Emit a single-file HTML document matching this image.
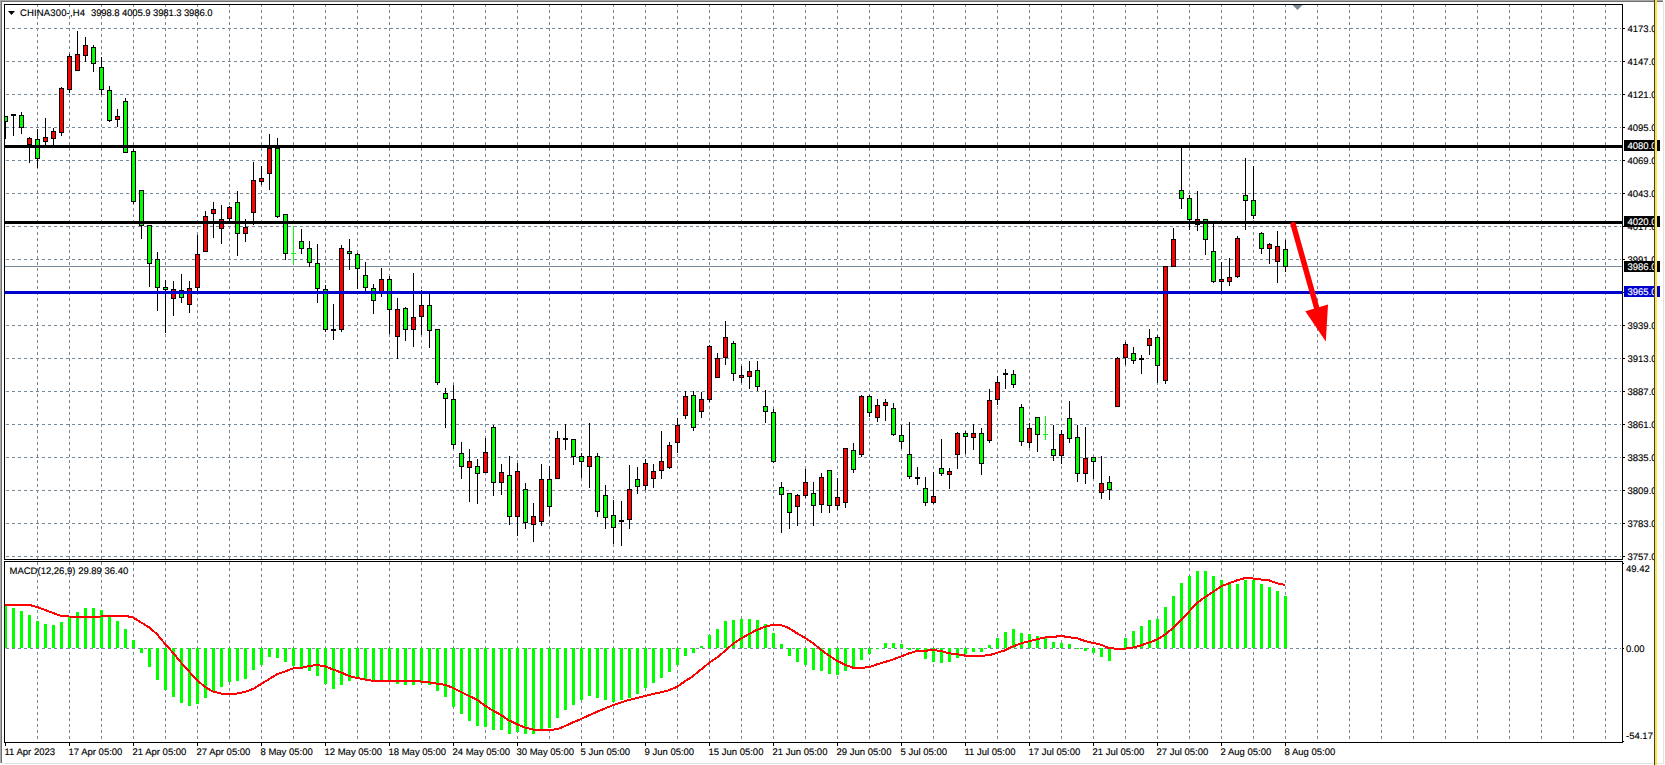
<!DOCTYPE html>
<html><head><meta charset="utf-8"><style>
html,body{margin:0;padding:0;width:1665px;height:765px;overflow:hidden;background:#fff}
svg{display:block}
text{font-family:"Liberation Sans",sans-serif;font-size:9.5px;text-rendering:geometricPrecision;stroke:currentColor;stroke-width:0.15px}
</style></head><body>
<svg width="1665" height="765" viewBox="0 0 1665 765" shape-rendering="crispEdges">
<defs>
<clipPath id="cpmain"><rect x="5" y="5" width="1617" height="554"/></clipPath>
<clipPath id="cpmacd"><rect x="5" y="562" width="1617" height="180"/></clipPath>
<clipPath id="cpall"><rect x="5" y="5" width="1617" height="554"/><rect x="5" y="562" width="1617" height="180"/></clipPath>
</defs>
<rect x="0" y="0" width="1663" height="1" fill="#a9a9a9"/>
<rect x="0" y="1" width="1663" height="1" fill="#707070"/>
<rect x="0" y="0" width="1" height="763" fill="#a9a9a9"/>
<rect x="1" y="1" width="1" height="762" fill="#707070"/>
<rect x="2" y="763" width="1662" height="1" fill="#e3e3e3"/>
<rect x="1663" y="2" width="1" height="762" fill="#e3e3e3"/>
<g clip-path="url(#cpall)" stroke="#778899" stroke-width="1" stroke-dasharray="3 3" fill="none">
<line x1="37.5" y1="4" x2="37.5" y2="745"/>
<line x1="69.5" y1="4" x2="69.5" y2="745"/>
<line x1="101.5" y1="4" x2="101.5" y2="745"/>
<line x1="133.5" y1="4" x2="133.5" y2="745"/>
<line x1="165.5" y1="4" x2="165.5" y2="745"/>
<line x1="197.5" y1="4" x2="197.5" y2="745"/>
<line x1="229.5" y1="4" x2="229.5" y2="745"/>
<line x1="261.5" y1="4" x2="261.5" y2="745"/>
<line x1="293.5" y1="4" x2="293.5" y2="745"/>
<line x1="325.5" y1="4" x2="325.5" y2="745"/>
<line x1="357.5" y1="4" x2="357.5" y2="745"/>
<line x1="389.5" y1="4" x2="389.5" y2="745"/>
<line x1="421.5" y1="4" x2="421.5" y2="745"/>
<line x1="453.5" y1="4" x2="453.5" y2="745"/>
<line x1="485.5" y1="4" x2="485.5" y2="745"/>
<line x1="517.5" y1="4" x2="517.5" y2="745"/>
<line x1="549.5" y1="4" x2="549.5" y2="745"/>
<line x1="581.5" y1="4" x2="581.5" y2="745"/>
<line x1="613.5" y1="4" x2="613.5" y2="745"/>
<line x1="645.5" y1="4" x2="645.5" y2="745"/>
<line x1="677.5" y1="4" x2="677.5" y2="745"/>
<line x1="709.5" y1="4" x2="709.5" y2="745"/>
<line x1="741.5" y1="4" x2="741.5" y2="745"/>
<line x1="773.5" y1="4" x2="773.5" y2="745"/>
<line x1="805.5" y1="4" x2="805.5" y2="745"/>
<line x1="837.5" y1="4" x2="837.5" y2="745"/>
<line x1="869.5" y1="4" x2="869.5" y2="745"/>
<line x1="901.5" y1="4" x2="901.5" y2="745"/>
<line x1="933.5" y1="4" x2="933.5" y2="745"/>
<line x1="965.5" y1="4" x2="965.5" y2="745"/>
<line x1="997.5" y1="4" x2="997.5" y2="745"/>
<line x1="1029.5" y1="4" x2="1029.5" y2="745"/>
<line x1="1061.5" y1="4" x2="1061.5" y2="745"/>
<line x1="1093.5" y1="4" x2="1093.5" y2="745"/>
<line x1="1125.5" y1="4" x2="1125.5" y2="745"/>
<line x1="1157.5" y1="4" x2="1157.5" y2="745"/>
<line x1="1189.5" y1="4" x2="1189.5" y2="745"/>
<line x1="1221.5" y1="4" x2="1221.5" y2="745"/>
<line x1="1253.5" y1="4" x2="1253.5" y2="745"/>
<line x1="1285.5" y1="4" x2="1285.5" y2="745"/>
<line x1="1317.5" y1="4" x2="1317.5" y2="745"/>
<line x1="1349.5" y1="4" x2="1349.5" y2="745"/>
<line x1="1381.5" y1="4" x2="1381.5" y2="745"/>
<line x1="1413.5" y1="4" x2="1413.5" y2="745"/>
<line x1="1445.5" y1="4" x2="1445.5" y2="745"/>
<line x1="1477.5" y1="4" x2="1477.5" y2="745"/>
<line x1="1509.5" y1="4" x2="1509.5" y2="745"/>
<line x1="1541.5" y1="4" x2="1541.5" y2="745"/>
<line x1="1573.5" y1="4" x2="1573.5" y2="745"/>
<line x1="1605.5" y1="4" x2="1605.5" y2="745"/>
<line x1="0" y1="28.5" x2="1621" y2="28.5"/>
<line x1="0" y1="61.5" x2="1621" y2="61.5"/>
<line x1="0" y1="94.5" x2="1621" y2="94.5"/>
<line x1="0" y1="127.5" x2="1621" y2="127.5"/>
<line x1="0" y1="160.5" x2="1621" y2="160.5"/>
<line x1="0" y1="193.5" x2="1621" y2="193.5"/>
<line x1="0" y1="226.5" x2="1621" y2="226.5"/>
<line x1="0" y1="259.5" x2="1621" y2="259.5"/>
<line x1="0" y1="292.5" x2="1621" y2="292.5"/>
<line x1="0" y1="325.5" x2="1621" y2="325.5"/>
<line x1="0" y1="358.5" x2="1621" y2="358.5"/>
<line x1="0" y1="391.5" x2="1621" y2="391.5"/>
<line x1="0" y1="424.5" x2="1621" y2="424.5"/>
<line x1="0" y1="457.5" x2="1621" y2="457.5"/>
<line x1="0" y1="490.5" x2="1621" y2="490.5"/>
<line x1="0" y1="523.5" x2="1621" y2="523.5"/>
<line x1="0" y1="556.5" x2="1621" y2="556.5"/>
<line x1="0" y1="648.5" x2="1621" y2="648.5"/>
</g>
<rect x="5" y="266" width="1617" height="1" fill="#778899"/>
<g clip-path="url(#cpmain)">
<rect x="5" y="116" width="1" height="23" fill="#000"/>
<rect x="3" y="116" width="5" height="6" fill="#000"/>
<rect x="4" y="117" width="3" height="4" fill="#00ff00"/>
<rect x="13" y="114" width="1" height="22" fill="#000"/>
<rect x="11" y="114" width="5" height="2" fill="#000"/>
<rect x="21" y="112" width="1" height="22" fill="#000"/>
<rect x="19" y="115" width="5" height="13" fill="#000"/>
<rect x="20" y="116" width="3" height="11" fill="#00ff00"/>
<rect x="29" y="137" width="1" height="26" fill="#000"/>
<rect x="27" y="138" width="5" height="7" fill="#000"/>
<rect x="28" y="139" width="3" height="5" fill="#ff0000"/>
<rect x="37" y="129" width="1" height="39" fill="#000"/>
<rect x="35" y="139" width="5" height="20" fill="#000"/>
<rect x="36" y="140" width="3" height="18" fill="#00ff00"/>
<rect x="45" y="118" width="1" height="29" fill="#000"/>
<rect x="43" y="137" width="5" height="5" fill="#000"/>
<rect x="44" y="138" width="3" height="3" fill="#ff0000"/>
<rect x="53" y="128" width="1" height="18" fill="#000"/>
<rect x="51" y="131" width="5" height="8" fill="#000"/>
<rect x="52" y="132" width="3" height="6" fill="#ff0000"/>
<rect x="61" y="87" width="1" height="49" fill="#000"/>
<rect x="59" y="88" width="5" height="45" fill="#000"/>
<rect x="60" y="89" width="3" height="43" fill="#ff0000"/>
<rect x="69" y="54" width="1" height="39" fill="#000"/>
<rect x="67" y="56" width="5" height="34" fill="#000"/>
<rect x="68" y="57" width="3" height="32" fill="#ff0000"/>
<rect x="77" y="31" width="1" height="40" fill="#000"/>
<rect x="75" y="54" width="5" height="17" fill="#000"/>
<rect x="76" y="55" width="3" height="15" fill="#ff0000"/>
<rect x="85" y="37" width="1" height="25" fill="#000"/>
<rect x="83" y="45" width="5" height="11" fill="#000"/>
<rect x="84" y="46" width="3" height="9" fill="#ff0000"/>
<rect x="93" y="45" width="1" height="27" fill="#000"/>
<rect x="91" y="47" width="5" height="17" fill="#000"/>
<rect x="92" y="48" width="3" height="15" fill="#00ff00"/>
<rect x="101" y="57" width="1" height="38" fill="#000"/>
<rect x="99" y="67" width="5" height="23" fill="#000"/>
<rect x="100" y="68" width="3" height="21" fill="#00ff00"/>
<rect x="109" y="86" width="1" height="36" fill="#000"/>
<rect x="107" y="90" width="5" height="31" fill="#000"/>
<rect x="108" y="91" width="3" height="29" fill="#00ff00"/>
<rect x="117" y="109" width="1" height="18" fill="#000"/>
<rect x="115" y="116" width="5" height="4" fill="#000"/>
<rect x="116" y="117" width="3" height="2" fill="#ff0000"/>
<rect x="125" y="98" width="1" height="55" fill="#000"/>
<rect x="123" y="101" width="5" height="52" fill="#000"/>
<rect x="124" y="102" width="3" height="50" fill="#00ff00"/>
<rect x="133" y="149" width="1" height="55" fill="#000"/>
<rect x="131" y="151" width="5" height="51" fill="#000"/>
<rect x="132" y="152" width="3" height="49" fill="#00ff00"/>
<rect x="141" y="190" width="1" height="49" fill="#000"/>
<rect x="139" y="190" width="5" height="36" fill="#000"/>
<rect x="140" y="191" width="3" height="34" fill="#00ff00"/>
<rect x="149" y="225" width="1" height="62" fill="#000"/>
<rect x="147" y="225" width="5" height="39" fill="#000"/>
<rect x="148" y="226" width="3" height="37" fill="#00ff00"/>
<rect x="157" y="252" width="1" height="59" fill="#000"/>
<rect x="155" y="259" width="5" height="29" fill="#000"/>
<rect x="156" y="260" width="3" height="27" fill="#00ff00"/>
<rect x="165" y="280" width="1" height="53" fill="#000"/>
<rect x="163" y="287" width="5" height="3" fill="#000"/>
<rect x="164" y="288" width="3" height="1" fill="#00ff00"/>
<rect x="173" y="281" width="1" height="35" fill="#000"/>
<rect x="171" y="289" width="5" height="10" fill="#000"/>
<rect x="172" y="290" width="3" height="8" fill="#ff0000"/>
<rect x="181" y="274" width="1" height="29" fill="#000"/>
<rect x="179" y="290" width="5" height="8" fill="#000"/>
<rect x="180" y="291" width="3" height="6" fill="#00ff00"/>
<rect x="189" y="281" width="1" height="32" fill="#000"/>
<rect x="187" y="288" width="5" height="17" fill="#000"/>
<rect x="188" y="289" width="3" height="15" fill="#ff0000"/>
<rect x="197" y="235" width="1" height="57" fill="#000"/>
<rect x="195" y="254" width="5" height="34" fill="#000"/>
<rect x="196" y="255" width="3" height="32" fill="#ff0000"/>
<rect x="205" y="211" width="1" height="41" fill="#000"/>
<rect x="203" y="216" width="5" height="36" fill="#000"/>
<rect x="204" y="217" width="3" height="34" fill="#ff0000"/>
<rect x="213" y="202" width="1" height="36" fill="#000"/>
<rect x="211" y="209" width="5" height="5" fill="#000"/>
<rect x="212" y="210" width="3" height="3" fill="#ff0000"/>
<rect x="221" y="205" width="1" height="39" fill="#000"/>
<rect x="219" y="219" width="5" height="10" fill="#000"/>
<rect x="220" y="220" width="3" height="8" fill="#ff0000"/>
<rect x="229" y="206" width="1" height="15" fill="#000"/>
<rect x="227" y="207" width="5" height="12" fill="#000"/>
<rect x="228" y="208" width="3" height="10" fill="#ff0000"/>
<rect x="237" y="191" width="1" height="65" fill="#000"/>
<rect x="235" y="202" width="5" height="32" fill="#000"/>
<rect x="236" y="203" width="3" height="30" fill="#00ff00"/>
<rect x="245" y="219" width="1" height="23" fill="#000"/>
<rect x="243" y="227" width="5" height="7" fill="#000"/>
<rect x="244" y="228" width="3" height="5" fill="#ff0000"/>
<rect x="253" y="162" width="1" height="63" fill="#000"/>
<rect x="251" y="180" width="5" height="33" fill="#000"/>
<rect x="252" y="181" width="3" height="31" fill="#ff0000"/>
<rect x="261" y="166" width="1" height="19" fill="#000"/>
<rect x="259" y="178" width="5" height="4" fill="#000"/>
<rect x="260" y="179" width="3" height="2" fill="#ff0000"/>
<rect x="269" y="134" width="1" height="56" fill="#000"/>
<rect x="267" y="148" width="5" height="26" fill="#000"/>
<rect x="268" y="149" width="3" height="24" fill="#ff0000"/>
<rect x="277" y="138" width="1" height="80" fill="#000"/>
<rect x="275" y="148" width="5" height="69" fill="#000"/>
<rect x="276" y="149" width="3" height="67" fill="#00ff00"/>
<rect x="285" y="214" width="1" height="46" fill="#000"/>
<rect x="283" y="214" width="5" height="40" fill="#000"/>
<rect x="284" y="215" width="3" height="38" fill="#00ff00"/>
<rect x="293" y="226" width="1" height="38" fill="#00ff00"/>
<rect x="291" y="253" width="5" height="1" fill="#00ff00"/>
<rect x="301" y="229" width="1" height="25" fill="#000"/>
<rect x="299" y="241" width="5" height="8" fill="#000"/>
<rect x="300" y="242" width="3" height="6" fill="#00ff00"/>
<rect x="309" y="241" width="1" height="26" fill="#000"/>
<rect x="307" y="248" width="5" height="15" fill="#000"/>
<rect x="308" y="249" width="3" height="13" fill="#00ff00"/>
<rect x="317" y="244" width="1" height="59" fill="#000"/>
<rect x="315" y="263" width="5" height="26" fill="#000"/>
<rect x="316" y="264" width="3" height="24" fill="#00ff00"/>
<rect x="325" y="285" width="1" height="47" fill="#000"/>
<rect x="323" y="289" width="5" height="41" fill="#000"/>
<rect x="324" y="290" width="3" height="39" fill="#00ff00"/>
<rect x="333" y="304" width="1" height="36" fill="#000"/>
<rect x="331" y="329" width="5" height="2" fill="#000"/>
<rect x="341" y="245" width="1" height="87" fill="#000"/>
<rect x="339" y="248" width="5" height="82" fill="#000"/>
<rect x="340" y="249" width="3" height="80" fill="#ff0000"/>
<rect x="349" y="239" width="1" height="31" fill="#000"/>
<rect x="347" y="251" width="5" height="3" fill="#000"/>
<rect x="348" y="252" width="3" height="1" fill="#00ff00"/>
<rect x="357" y="253" width="1" height="36" fill="#000"/>
<rect x="355" y="254" width="5" height="15" fill="#000"/>
<rect x="356" y="255" width="3" height="13" fill="#00ff00"/>
<rect x="365" y="262" width="1" height="29" fill="#000"/>
<rect x="363" y="275" width="5" height="13" fill="#000"/>
<rect x="364" y="276" width="3" height="11" fill="#00ff00"/>
<rect x="373" y="284" width="1" height="30" fill="#000"/>
<rect x="371" y="288" width="5" height="13" fill="#000"/>
<rect x="372" y="289" width="3" height="11" fill="#00ff00"/>
<rect x="381" y="268" width="1" height="29" fill="#000"/>
<rect x="379" y="279" width="5" height="13" fill="#000"/>
<rect x="380" y="280" width="3" height="11" fill="#ff0000"/>
<rect x="389" y="276" width="1" height="58" fill="#000"/>
<rect x="387" y="279" width="5" height="31" fill="#000"/>
<rect x="388" y="280" width="3" height="29" fill="#00ff00"/>
<rect x="397" y="298" width="1" height="61" fill="#000"/>
<rect x="395" y="309" width="5" height="28" fill="#000"/>
<rect x="396" y="310" width="3" height="26" fill="#ff0000"/>
<rect x="405" y="307" width="1" height="34" fill="#000"/>
<rect x="403" y="308" width="5" height="22" fill="#000"/>
<rect x="404" y="309" width="3" height="20" fill="#00ff00"/>
<rect x="413" y="273" width="1" height="74" fill="#000"/>
<rect x="411" y="317" width="5" height="13" fill="#000"/>
<rect x="412" y="318" width="3" height="11" fill="#ff0000"/>
<rect x="421" y="290" width="1" height="45" fill="#000"/>
<rect x="419" y="305" width="5" height="12" fill="#000"/>
<rect x="420" y="306" width="3" height="10" fill="#ff0000"/>
<rect x="429" y="293" width="1" height="55" fill="#000"/>
<rect x="427" y="305" width="5" height="26" fill="#000"/>
<rect x="428" y="306" width="3" height="24" fill="#00ff00"/>
<rect x="437" y="329" width="1" height="56" fill="#000"/>
<rect x="435" y="329" width="5" height="54" fill="#000"/>
<rect x="436" y="330" width="3" height="52" fill="#00ff00"/>
<rect x="445" y="388" width="1" height="40" fill="#000"/>
<rect x="443" y="393" width="5" height="6" fill="#000"/>
<rect x="444" y="394" width="3" height="4" fill="#00ff00"/>
<rect x="453" y="385" width="1" height="64" fill="#000"/>
<rect x="451" y="399" width="5" height="46" fill="#000"/>
<rect x="452" y="400" width="3" height="44" fill="#00ff00"/>
<rect x="461" y="442" width="1" height="37" fill="#000"/>
<rect x="459" y="453" width="5" height="14" fill="#000"/>
<rect x="460" y="454" width="3" height="12" fill="#00ff00"/>
<rect x="469" y="449" width="1" height="53" fill="#000"/>
<rect x="467" y="461" width="5" height="7" fill="#000"/>
<rect x="468" y="462" width="3" height="5" fill="#ff0000"/>
<rect x="477" y="459" width="1" height="45" fill="#000"/>
<rect x="475" y="466" width="5" height="8" fill="#000"/>
<rect x="476" y="467" width="3" height="6" fill="#00ff00"/>
<rect x="485" y="438" width="1" height="35" fill="#000"/>
<rect x="483" y="452" width="5" height="21" fill="#000"/>
<rect x="484" y="453" width="3" height="19" fill="#ff0000"/>
<rect x="493" y="425" width="1" height="71" fill="#000"/>
<rect x="491" y="427" width="5" height="56" fill="#000"/>
<rect x="492" y="428" width="3" height="54" fill="#00ff00"/>
<rect x="501" y="464" width="1" height="31" fill="#000"/>
<rect x="499" y="472" width="5" height="11" fill="#000"/>
<rect x="500" y="473" width="3" height="9" fill="#ff0000"/>
<rect x="509" y="456" width="1" height="69" fill="#000"/>
<rect x="507" y="475" width="5" height="42" fill="#000"/>
<rect x="508" y="476" width="3" height="40" fill="#00ff00"/>
<rect x="517" y="463" width="1" height="73" fill="#000"/>
<rect x="515" y="471" width="5" height="46" fill="#000"/>
<rect x="516" y="472" width="3" height="44" fill="#ff0000"/>
<rect x="525" y="483" width="1" height="46" fill="#000"/>
<rect x="523" y="489" width="5" height="34" fill="#000"/>
<rect x="524" y="490" width="3" height="32" fill="#00ff00"/>
<rect x="533" y="503" width="1" height="39" fill="#000"/>
<rect x="531" y="516" width="5" height="9" fill="#000"/>
<rect x="532" y="517" width="3" height="7" fill="#ff0000"/>
<rect x="541" y="464" width="1" height="62" fill="#000"/>
<rect x="539" y="479" width="5" height="43" fill="#000"/>
<rect x="540" y="480" width="3" height="41" fill="#ff0000"/>
<rect x="549" y="466" width="1" height="50" fill="#000"/>
<rect x="547" y="479" width="5" height="28" fill="#000"/>
<rect x="548" y="480" width="3" height="26" fill="#00ff00"/>
<rect x="557" y="431" width="1" height="48" fill="#000"/>
<rect x="555" y="438" width="5" height="41" fill="#000"/>
<rect x="556" y="439" width="3" height="39" fill="#ff0000"/>
<rect x="565" y="424" width="1" height="26" fill="#000"/>
<rect x="563" y="438" width="5" height="2" fill="#000"/>
<rect x="573" y="439" width="1" height="26" fill="#000"/>
<rect x="571" y="439" width="5" height="18" fill="#000"/>
<rect x="572" y="440" width="3" height="16" fill="#00ff00"/>
<rect x="581" y="453" width="1" height="25" fill="#000"/>
<rect x="579" y="456" width="5" height="6" fill="#000"/>
<rect x="580" y="457" width="3" height="4" fill="#00ff00"/>
<rect x="589" y="423" width="1" height="65" fill="#000"/>
<rect x="587" y="456" width="5" height="11" fill="#000"/>
<rect x="588" y="457" width="3" height="9" fill="#ff0000"/>
<rect x="597" y="453" width="1" height="64" fill="#000"/>
<rect x="595" y="456" width="5" height="56" fill="#000"/>
<rect x="596" y="457" width="3" height="54" fill="#00ff00"/>
<rect x="605" y="485" width="1" height="44" fill="#000"/>
<rect x="603" y="495" width="5" height="23" fill="#000"/>
<rect x="604" y="496" width="3" height="21" fill="#00ff00"/>
<rect x="613" y="500" width="1" height="44" fill="#000"/>
<rect x="611" y="515" width="5" height="13" fill="#000"/>
<rect x="612" y="516" width="3" height="11" fill="#00ff00"/>
<rect x="621" y="501" width="1" height="45" fill="#000"/>
<rect x="619" y="520" width="5" height="2" fill="#000"/>
<rect x="629" y="465" width="1" height="64" fill="#000"/>
<rect x="627" y="489" width="5" height="31" fill="#000"/>
<rect x="628" y="490" width="3" height="29" fill="#ff0000"/>
<rect x="637" y="467" width="1" height="27" fill="#000"/>
<rect x="635" y="479" width="5" height="8" fill="#000"/>
<rect x="636" y="480" width="3" height="6" fill="#00ff00"/>
<rect x="645" y="459" width="1" height="31" fill="#000"/>
<rect x="643" y="463" width="5" height="23" fill="#000"/>
<rect x="644" y="464" width="3" height="21" fill="#ff0000"/>
<rect x="653" y="464" width="1" height="24" fill="#000"/>
<rect x="651" y="471" width="5" height="8" fill="#000"/>
<rect x="652" y="472" width="3" height="6" fill="#ff0000"/>
<rect x="661" y="431" width="1" height="48" fill="#000"/>
<rect x="659" y="461" width="5" height="10" fill="#000"/>
<rect x="660" y="462" width="3" height="8" fill="#ff0000"/>
<rect x="669" y="442" width="1" height="27" fill="#000"/>
<rect x="667" y="445" width="5" height="23" fill="#000"/>
<rect x="668" y="446" width="3" height="21" fill="#ff0000"/>
<rect x="677" y="418" width="1" height="35" fill="#000"/>
<rect x="675" y="425" width="5" height="18" fill="#000"/>
<rect x="676" y="426" width="3" height="16" fill="#ff0000"/>
<rect x="685" y="391" width="1" height="28" fill="#000"/>
<rect x="683" y="396" width="5" height="20" fill="#000"/>
<rect x="684" y="397" width="3" height="18" fill="#ff0000"/>
<rect x="693" y="391" width="1" height="40" fill="#000"/>
<rect x="691" y="395" width="5" height="33" fill="#000"/>
<rect x="692" y="396" width="3" height="31" fill="#00ff00"/>
<rect x="701" y="392" width="1" height="26" fill="#000"/>
<rect x="699" y="399" width="5" height="13" fill="#000"/>
<rect x="700" y="400" width="3" height="11" fill="#ff0000"/>
<rect x="709" y="345" width="1" height="57" fill="#000"/>
<rect x="707" y="346" width="5" height="54" fill="#000"/>
<rect x="708" y="347" width="3" height="52" fill="#ff0000"/>
<rect x="717" y="353" width="1" height="25" fill="#000"/>
<rect x="715" y="358" width="5" height="20" fill="#000"/>
<rect x="716" y="359" width="3" height="18" fill="#ff0000"/>
<rect x="725" y="321" width="1" height="44" fill="#000"/>
<rect x="723" y="337" width="5" height="21" fill="#000"/>
<rect x="724" y="338" width="3" height="19" fill="#ff0000"/>
<rect x="733" y="341" width="1" height="40" fill="#000"/>
<rect x="731" y="343" width="5" height="31" fill="#000"/>
<rect x="732" y="344" width="3" height="29" fill="#00ff00"/>
<rect x="741" y="366" width="1" height="17" fill="#000"/>
<rect x="739" y="375" width="5" height="3" fill="#000"/>
<rect x="740" y="376" width="3" height="1" fill="#ff0000"/>
<rect x="749" y="361" width="1" height="28" fill="#000"/>
<rect x="747" y="371" width="5" height="6" fill="#000"/>
<rect x="748" y="372" width="3" height="4" fill="#ff0000"/>
<rect x="757" y="361" width="1" height="30" fill="#000"/>
<rect x="755" y="370" width="5" height="17" fill="#000"/>
<rect x="756" y="371" width="3" height="15" fill="#00ff00"/>
<rect x="765" y="390" width="1" height="33" fill="#000"/>
<rect x="763" y="406" width="5" height="6" fill="#000"/>
<rect x="764" y="407" width="3" height="4" fill="#00ff00"/>
<rect x="773" y="409" width="1" height="54" fill="#000"/>
<rect x="771" y="412" width="5" height="50" fill="#000"/>
<rect x="772" y="413" width="3" height="48" fill="#00ff00"/>
<rect x="781" y="482" width="1" height="51" fill="#000"/>
<rect x="779" y="487" width="5" height="8" fill="#000"/>
<rect x="780" y="488" width="3" height="6" fill="#00ff00"/>
<rect x="789" y="493" width="1" height="36" fill="#000"/>
<rect x="787" y="493" width="5" height="20" fill="#000"/>
<rect x="788" y="494" width="3" height="18" fill="#00ff00"/>
<rect x="797" y="494" width="1" height="32" fill="#000"/>
<rect x="795" y="495" width="5" height="12" fill="#000"/>
<rect x="796" y="496" width="3" height="10" fill="#ff0000"/>
<rect x="805" y="469" width="1" height="29" fill="#000"/>
<rect x="803" y="482" width="5" height="14" fill="#000"/>
<rect x="804" y="483" width="3" height="12" fill="#ff0000"/>
<rect x="813" y="482" width="1" height="44" fill="#000"/>
<rect x="811" y="493" width="5" height="13" fill="#000"/>
<rect x="812" y="494" width="3" height="11" fill="#00ff00"/>
<rect x="821" y="473" width="1" height="40" fill="#000"/>
<rect x="819" y="477" width="5" height="28" fill="#000"/>
<rect x="820" y="478" width="3" height="26" fill="#ff0000"/>
<rect x="829" y="470" width="1" height="43" fill="#000"/>
<rect x="827" y="470" width="5" height="36" fill="#000"/>
<rect x="828" y="471" width="3" height="34" fill="#00ff00"/>
<rect x="837" y="478" width="1" height="32" fill="#000"/>
<rect x="835" y="497" width="5" height="9" fill="#000"/>
<rect x="836" y="498" width="3" height="7" fill="#ff0000"/>
<rect x="845" y="448" width="1" height="60" fill="#000"/>
<rect x="843" y="448" width="5" height="55" fill="#000"/>
<rect x="844" y="449" width="3" height="53" fill="#ff0000"/>
<rect x="853" y="443" width="1" height="30" fill="#000"/>
<rect x="851" y="450" width="5" height="20" fill="#000"/>
<rect x="852" y="451" width="3" height="18" fill="#00ff00"/>
<rect x="861" y="395" width="1" height="62" fill="#000"/>
<rect x="859" y="396" width="5" height="59" fill="#000"/>
<rect x="860" y="397" width="3" height="57" fill="#ff0000"/>
<rect x="869" y="395" width="1" height="22" fill="#000"/>
<rect x="867" y="396" width="5" height="17" fill="#000"/>
<rect x="868" y="397" width="3" height="15" fill="#00ff00"/>
<rect x="877" y="399" width="1" height="23" fill="#000"/>
<rect x="875" y="405" width="5" height="13" fill="#000"/>
<rect x="876" y="406" width="3" height="11" fill="#ff0000"/>
<rect x="885" y="399" width="1" height="22" fill="#000"/>
<rect x="883" y="402" width="5" height="4" fill="#000"/>
<rect x="884" y="403" width="3" height="2" fill="#ff0000"/>
<rect x="893" y="403" width="1" height="33" fill="#000"/>
<rect x="891" y="408" width="5" height="27" fill="#000"/>
<rect x="892" y="409" width="3" height="25" fill="#00ff00"/>
<rect x="901" y="425" width="1" height="24" fill="#000"/>
<rect x="899" y="435" width="5" height="7" fill="#000"/>
<rect x="900" y="436" width="3" height="5" fill="#00ff00"/>
<rect x="909" y="422" width="1" height="57" fill="#000"/>
<rect x="907" y="454" width="5" height="23" fill="#000"/>
<rect x="908" y="455" width="3" height="21" fill="#00ff00"/>
<rect x="917" y="467" width="1" height="18" fill="#000"/>
<rect x="915" y="477" width="5" height="2" fill="#000"/>
<rect x="925" y="477" width="1" height="29" fill="#000"/>
<rect x="923" y="488" width="5" height="15" fill="#000"/>
<rect x="924" y="489" width="3" height="13" fill="#00ff00"/>
<rect x="933" y="472" width="1" height="32" fill="#000"/>
<rect x="931" y="496" width="5" height="7" fill="#000"/>
<rect x="932" y="497" width="3" height="5" fill="#ff0000"/>
<rect x="941" y="439" width="1" height="37" fill="#000"/>
<rect x="939" y="468" width="5" height="6" fill="#000"/>
<rect x="940" y="469" width="3" height="4" fill="#00ff00"/>
<rect x="949" y="468" width="1" height="21" fill="#000"/>
<rect x="947" y="471" width="5" height="4" fill="#000"/>
<rect x="948" y="472" width="3" height="2" fill="#ff0000"/>
<rect x="957" y="432" width="1" height="37" fill="#000"/>
<rect x="955" y="433" width="5" height="22" fill="#000"/>
<rect x="956" y="434" width="3" height="20" fill="#ff0000"/>
<rect x="965" y="431" width="1" height="23" fill="#000"/>
<rect x="963" y="433" width="5" height="4" fill="#000"/>
<rect x="964" y="434" width="3" height="2" fill="#00ff00"/>
<rect x="973" y="424" width="1" height="26" fill="#000"/>
<rect x="971" y="433" width="5" height="5" fill="#000"/>
<rect x="972" y="434" width="3" height="3" fill="#ff0000"/>
<rect x="981" y="428" width="1" height="47" fill="#000"/>
<rect x="979" y="433" width="5" height="31" fill="#000"/>
<rect x="980" y="434" width="3" height="29" fill="#00ff00"/>
<rect x="989" y="389" width="1" height="54" fill="#000"/>
<rect x="987" y="400" width="5" height="41" fill="#000"/>
<rect x="988" y="401" width="3" height="39" fill="#ff0000"/>
<rect x="997" y="376" width="1" height="29" fill="#000"/>
<rect x="995" y="382" width="5" height="18" fill="#000"/>
<rect x="996" y="383" width="3" height="16" fill="#ff0000"/>
<rect x="1005" y="369" width="1" height="20" fill="#000"/>
<rect x="1003" y="373" width="5" height="2" fill="#000"/>
<rect x="1013" y="370" width="1" height="18" fill="#000"/>
<rect x="1011" y="374" width="5" height="11" fill="#000"/>
<rect x="1012" y="375" width="3" height="9" fill="#00ff00"/>
<rect x="1021" y="404" width="1" height="42" fill="#000"/>
<rect x="1019" y="407" width="5" height="35" fill="#000"/>
<rect x="1020" y="408" width="3" height="33" fill="#00ff00"/>
<rect x="1029" y="423" width="1" height="25" fill="#000"/>
<rect x="1027" y="428" width="5" height="15" fill="#000"/>
<rect x="1028" y="429" width="3" height="13" fill="#ff0000"/>
<rect x="1037" y="417" width="1" height="35" fill="#000"/>
<rect x="1035" y="417" width="5" height="18" fill="#000"/>
<rect x="1036" y="418" width="3" height="16" fill="#00ff00"/>
<rect x="1045" y="416" width="1" height="24" fill="#00ff00"/>
<rect x="1043" y="434" width="5" height="1" fill="#00ff00"/>
<rect x="1053" y="425" width="1" height="36" fill="#000"/>
<rect x="1051" y="449" width="5" height="7" fill="#000"/>
<rect x="1052" y="450" width="3" height="5" fill="#00ff00"/>
<rect x="1061" y="430" width="1" height="34" fill="#000"/>
<rect x="1059" y="434" width="5" height="22" fill="#000"/>
<rect x="1060" y="435" width="3" height="20" fill="#ff0000"/>
<rect x="1069" y="401" width="1" height="42" fill="#000"/>
<rect x="1067" y="418" width="5" height="21" fill="#000"/>
<rect x="1068" y="419" width="3" height="19" fill="#00ff00"/>
<rect x="1077" y="425" width="1" height="57" fill="#000"/>
<rect x="1075" y="437" width="5" height="37" fill="#000"/>
<rect x="1076" y="438" width="3" height="35" fill="#00ff00"/>
<rect x="1085" y="427" width="1" height="57" fill="#000"/>
<rect x="1083" y="458" width="5" height="16" fill="#000"/>
<rect x="1084" y="459" width="3" height="14" fill="#ff0000"/>
<rect x="1093" y="457" width="1" height="22" fill="#000"/>
<rect x="1091" y="457" width="5" height="5" fill="#000"/>
<rect x="1092" y="458" width="3" height="3" fill="#00ff00"/>
<rect x="1101" y="456" width="1" height="43" fill="#000"/>
<rect x="1099" y="483" width="5" height="10" fill="#000"/>
<rect x="1100" y="484" width="3" height="8" fill="#ff0000"/>
<rect x="1109" y="476" width="1" height="24" fill="#000"/>
<rect x="1107" y="482" width="5" height="8" fill="#000"/>
<rect x="1108" y="483" width="3" height="6" fill="#00ff00"/>
<rect x="1117" y="357" width="1" height="50" fill="#000"/>
<rect x="1115" y="358" width="5" height="49" fill="#000"/>
<rect x="1116" y="359" width="3" height="47" fill="#ff0000"/>
<rect x="1125" y="342" width="1" height="23" fill="#000"/>
<rect x="1123" y="344" width="5" height="14" fill="#000"/>
<rect x="1124" y="345" width="3" height="12" fill="#ff0000"/>
<rect x="1133" y="347" width="1" height="17" fill="#000"/>
<rect x="1131" y="353" width="5" height="8" fill="#000"/>
<rect x="1132" y="354" width="3" height="6" fill="#00ff00"/>
<rect x="1141" y="355" width="1" height="19" fill="#000"/>
<rect x="1139" y="358" width="5" height="2" fill="#000"/>
<rect x="1149" y="329" width="1" height="26" fill="#000"/>
<rect x="1147" y="338" width="5" height="8" fill="#000"/>
<rect x="1148" y="339" width="3" height="6" fill="#ff0000"/>
<rect x="1157" y="335" width="1" height="48" fill="#000"/>
<rect x="1155" y="337" width="5" height="29" fill="#000"/>
<rect x="1156" y="338" width="3" height="27" fill="#00ff00"/>
<rect x="1165" y="266" width="1" height="118" fill="#000"/>
<rect x="1163" y="266" width="5" height="115" fill="#000"/>
<rect x="1164" y="267" width="3" height="113" fill="#ff0000"/>
<rect x="1173" y="228" width="1" height="39" fill="#000"/>
<rect x="1171" y="239" width="5" height="28" fill="#000"/>
<rect x="1172" y="240" width="3" height="26" fill="#ff0000"/>
<rect x="1181" y="147" width="1" height="62" fill="#000"/>
<rect x="1179" y="190" width="5" height="9" fill="#000"/>
<rect x="1180" y="191" width="3" height="7" fill="#00ff00"/>
<rect x="1189" y="195" width="1" height="35" fill="#000"/>
<rect x="1187" y="198" width="5" height="22" fill="#000"/>
<rect x="1188" y="199" width="3" height="20" fill="#00ff00"/>
<rect x="1197" y="191" width="1" height="40" fill="#000"/>
<rect x="1195" y="219" width="5" height="6" fill="#000"/>
<rect x="1196" y="220" width="3" height="4" fill="#ff0000"/>
<rect x="1205" y="219" width="1" height="36" fill="#000"/>
<rect x="1203" y="219" width="5" height="21" fill="#000"/>
<rect x="1204" y="220" width="3" height="19" fill="#00ff00"/>
<rect x="1213" y="223" width="1" height="60" fill="#000"/>
<rect x="1211" y="251" width="5" height="31" fill="#000"/>
<rect x="1212" y="252" width="3" height="29" fill="#00ff00"/>
<rect x="1221" y="262" width="1" height="29" fill="#000"/>
<rect x="1219" y="279" width="5" height="3" fill="#000"/>
<rect x="1220" y="280" width="3" height="1" fill="#ff0000"/>
<rect x="1229" y="258" width="1" height="28" fill="#000"/>
<rect x="1227" y="277" width="5" height="5" fill="#000"/>
<rect x="1228" y="278" width="3" height="3" fill="#ff0000"/>
<rect x="1237" y="236" width="1" height="42" fill="#000"/>
<rect x="1235" y="238" width="5" height="39" fill="#000"/>
<rect x="1236" y="239" width="3" height="37" fill="#ff0000"/>
<rect x="1245" y="158" width="1" height="72" fill="#000"/>
<rect x="1243" y="195" width="5" height="6" fill="#000"/>
<rect x="1244" y="196" width="3" height="4" fill="#00ff00"/>
<rect x="1253" y="166" width="1" height="53" fill="#000"/>
<rect x="1251" y="200" width="5" height="16" fill="#000"/>
<rect x="1252" y="201" width="3" height="14" fill="#00ff00"/>
<rect x="1261" y="232" width="1" height="22" fill="#000"/>
<rect x="1259" y="233" width="5" height="16" fill="#000"/>
<rect x="1260" y="234" width="3" height="14" fill="#00ff00"/>
<rect x="1269" y="243" width="1" height="21" fill="#000"/>
<rect x="1267" y="244" width="5" height="5" fill="#000"/>
<rect x="1268" y="245" width="3" height="3" fill="#ff0000"/>
<rect x="1277" y="231" width="1" height="52" fill="#000"/>
<rect x="1275" y="246" width="5" height="16" fill="#000"/>
<rect x="1276" y="247" width="3" height="14" fill="#ff0000"/>
<rect x="1285" y="240" width="1" height="32" fill="#000"/>
<rect x="1283" y="249" width="5" height="18" fill="#000"/>
<rect x="1284" y="250" width="3" height="16" fill="#00ff00"/>
</g>
<g clip-path="url(#cpmacd)">
<rect x="4" y="606" width="3" height="42" fill="#00ff00"/>
<rect x="12" y="608" width="3" height="40" fill="#00ff00"/>
<rect x="20" y="611" width="3" height="37" fill="#00ff00"/>
<rect x="28" y="615" width="3" height="33" fill="#00ff00"/>
<rect x="36" y="621" width="3" height="27" fill="#00ff00"/>
<rect x="44" y="624" width="3" height="24" fill="#00ff00"/>
<rect x="52" y="625" width="3" height="23" fill="#00ff00"/>
<rect x="60" y="622" width="3" height="26" fill="#00ff00"/>
<rect x="68" y="617" width="3" height="31" fill="#00ff00"/>
<rect x="76" y="612" width="3" height="36" fill="#00ff00"/>
<rect x="84" y="608" width="3" height="40" fill="#00ff00"/>
<rect x="92" y="608" width="3" height="40" fill="#00ff00"/>
<rect x="100" y="610" width="3" height="38" fill="#00ff00"/>
<rect x="108" y="617" width="3" height="31" fill="#00ff00"/>
<rect x="116" y="621" width="3" height="27" fill="#00ff00"/>
<rect x="124" y="629" width="3" height="19" fill="#00ff00"/>
<rect x="132" y="640" width="3" height="8" fill="#00ff00"/>
<rect x="140" y="648" width="3" height="5" fill="#00ff00"/>
<rect x="148" y="648" width="3" height="19" fill="#00ff00"/>
<rect x="156" y="648" width="3" height="32" fill="#00ff00"/>
<rect x="164" y="648" width="3" height="42" fill="#00ff00"/>
<rect x="172" y="648" width="3" height="49" fill="#00ff00"/>
<rect x="180" y="648" width="3" height="55" fill="#00ff00"/>
<rect x="188" y="648" width="3" height="58" fill="#00ff00"/>
<rect x="196" y="648" width="3" height="56" fill="#00ff00"/>
<rect x="204" y="648" width="3" height="50" fill="#00ff00"/>
<rect x="212" y="648" width="3" height="44" fill="#00ff00"/>
<rect x="220" y="648" width="3" height="39" fill="#00ff00"/>
<rect x="228" y="648" width="3" height="34" fill="#00ff00"/>
<rect x="236" y="648" width="3" height="33" fill="#00ff00"/>
<rect x="244" y="648" width="3" height="31" fill="#00ff00"/>
<rect x="252" y="648" width="3" height="22" fill="#00ff00"/>
<rect x="260" y="648" width="3" height="17" fill="#00ff00"/>
<rect x="268" y="648" width="3" height="9" fill="#00ff00"/>
<rect x="276" y="648" width="3" height="10" fill="#00ff00"/>
<rect x="284" y="648" width="3" height="14" fill="#00ff00"/>
<rect x="292" y="648" width="3" height="18" fill="#00ff00"/>
<rect x="300" y="648" width="3" height="19" fill="#00ff00"/>
<rect x="308" y="648" width="3" height="23" fill="#00ff00"/>
<rect x="316" y="648" width="3" height="28" fill="#00ff00"/>
<rect x="324" y="648" width="3" height="36" fill="#00ff00"/>
<rect x="332" y="648" width="3" height="41" fill="#00ff00"/>
<rect x="340" y="648" width="3" height="37" fill="#00ff00"/>
<rect x="348" y="648" width="3" height="33" fill="#00ff00"/>
<rect x="356" y="648" width="3" height="30" fill="#00ff00"/>
<rect x="364" y="648" width="3" height="31" fill="#00ff00"/>
<rect x="372" y="648" width="3" height="32" fill="#00ff00"/>
<rect x="380" y="648" width="3" height="33" fill="#00ff00"/>
<rect x="388" y="648" width="3" height="33" fill="#00ff00"/>
<rect x="396" y="648" width="3" height="36" fill="#00ff00"/>
<rect x="404" y="648" width="3" height="37" fill="#00ff00"/>
<rect x="412" y="648" width="3" height="37" fill="#00ff00"/>
<rect x="420" y="648" width="3" height="35" fill="#00ff00"/>
<rect x="428" y="648" width="3" height="37" fill="#00ff00"/>
<rect x="436" y="648" width="3" height="43" fill="#00ff00"/>
<rect x="444" y="648" width="3" height="49" fill="#00ff00"/>
<rect x="452" y="648" width="3" height="59" fill="#00ff00"/>
<rect x="460" y="648" width="3" height="66" fill="#00ff00"/>
<rect x="468" y="648" width="3" height="73" fill="#00ff00"/>
<rect x="476" y="648" width="3" height="78" fill="#00ff00"/>
<rect x="484" y="648" width="3" height="79" fill="#00ff00"/>
<rect x="492" y="648" width="3" height="82" fill="#00ff00"/>
<rect x="500" y="648" width="3" height="82" fill="#00ff00"/>
<rect x="508" y="648" width="3" height="86" fill="#00ff00"/>
<rect x="516" y="648" width="3" height="84" fill="#00ff00"/>
<rect x="524" y="648" width="3" height="86" fill="#00ff00"/>
<rect x="532" y="648" width="3" height="86" fill="#00ff00"/>
<rect x="540" y="648" width="3" height="81" fill="#00ff00"/>
<rect x="548" y="648" width="3" height="80" fill="#00ff00"/>
<rect x="556" y="648" width="3" height="70" fill="#00ff00"/>
<rect x="564" y="648" width="3" height="62" fill="#00ff00"/>
<rect x="572" y="648" width="3" height="57" fill="#00ff00"/>
<rect x="580" y="648" width="3" height="52" fill="#00ff00"/>
<rect x="588" y="648" width="3" height="48" fill="#00ff00"/>
<rect x="596" y="648" width="3" height="50" fill="#00ff00"/>
<rect x="604" y="648" width="3" height="52" fill="#00ff00"/>
<rect x="612" y="648" width="3" height="54" fill="#00ff00"/>
<rect x="620" y="648" width="3" height="52" fill="#00ff00"/>
<rect x="628" y="648" width="3" height="50" fill="#00ff00"/>
<rect x="636" y="648" width="3" height="46" fill="#00ff00"/>
<rect x="644" y="648" width="3" height="40" fill="#00ff00"/>
<rect x="652" y="648" width="3" height="35" fill="#00ff00"/>
<rect x="660" y="648" width="3" height="30" fill="#00ff00"/>
<rect x="668" y="648" width="3" height="24" fill="#00ff00"/>
<rect x="676" y="648" width="3" height="17" fill="#00ff00"/>
<rect x="684" y="648" width="3" height="8" fill="#00ff00"/>
<rect x="692" y="648" width="3" height="5" fill="#00ff00"/>
<rect x="700" y="646" width="3" height="2" fill="#00ff00"/>
<rect x="708" y="635" width="3" height="13" fill="#00ff00"/>
<rect x="716" y="629" width="3" height="19" fill="#00ff00"/>
<rect x="724" y="621" width="3" height="27" fill="#00ff00"/>
<rect x="732" y="620" width="3" height="28" fill="#00ff00"/>
<rect x="740" y="619" width="3" height="29" fill="#00ff00"/>
<rect x="748" y="619" width="3" height="29" fill="#00ff00"/>
<rect x="756" y="620" width="3" height="28" fill="#00ff00"/>
<rect x="764" y="624" width="3" height="24" fill="#00ff00"/>
<rect x="772" y="633" width="3" height="15" fill="#00ff00"/>
<rect x="780" y="644" width="3" height="4" fill="#00ff00"/>
<rect x="788" y="648" width="3" height="8" fill="#00ff00"/>
<rect x="796" y="648" width="3" height="14" fill="#00ff00"/>
<rect x="804" y="648" width="3" height="17" fill="#00ff00"/>
<rect x="812" y="648" width="3" height="22" fill="#00ff00"/>
<rect x="820" y="648" width="3" height="23" fill="#00ff00"/>
<rect x="828" y="648" width="3" height="26" fill="#00ff00"/>
<rect x="836" y="648" width="3" height="27" fill="#00ff00"/>
<rect x="844" y="648" width="3" height="23" fill="#00ff00"/>
<rect x="852" y="648" width="3" height="21" fill="#00ff00"/>
<rect x="860" y="648" width="3" height="12" fill="#00ff00"/>
<rect x="868" y="648" width="3" height="6" fill="#00ff00"/>
<rect x="876" y="648" width="3" height="1" fill="#00ff00"/>
<rect x="884" y="643" width="3" height="5" fill="#00ff00"/>
<rect x="892" y="643" width="3" height="5" fill="#00ff00"/>
<rect x="900" y="644" width="3" height="4" fill="#00ff00"/>
<rect x="908" y="648" width="3" height="2" fill="#00ff00"/>
<rect x="916" y="648" width="3" height="4" fill="#00ff00"/>
<rect x="924" y="648" width="3" height="11" fill="#00ff00"/>
<rect x="932" y="648" width="3" height="14" fill="#00ff00"/>
<rect x="940" y="648" width="3" height="15" fill="#00ff00"/>
<rect x="948" y="648" width="3" height="14" fill="#00ff00"/>
<rect x="956" y="648" width="3" height="10" fill="#00ff00"/>
<rect x="964" y="648" width="3" height="6" fill="#00ff00"/>
<rect x="972" y="648" width="3" height="4" fill="#00ff00"/>
<rect x="980" y="648" width="3" height="4" fill="#00ff00"/>
<rect x="988" y="645" width="3" height="3" fill="#00ff00"/>
<rect x="996" y="638" width="3" height="10" fill="#00ff00"/>
<rect x="1004" y="632" width="3" height="16" fill="#00ff00"/>
<rect x="1012" y="629" width="3" height="19" fill="#00ff00"/>
<rect x="1020" y="633" width="3" height="15" fill="#00ff00"/>
<rect x="1028" y="634" width="3" height="14" fill="#00ff00"/>
<rect x="1036" y="636" width="3" height="12" fill="#00ff00"/>
<rect x="1044" y="638" width="3" height="10" fill="#00ff00"/>
<rect x="1052" y="642" width="3" height="6" fill="#00ff00"/>
<rect x="1060" y="643" width="3" height="5" fill="#00ff00"/>
<rect x="1068" y="644" width="3" height="4" fill="#00ff00"/>
<rect x="1076" y="648" width="3" height="1" fill="#00ff00"/>
<rect x="1084" y="648" width="3" height="3" fill="#00ff00"/>
<rect x="1092" y="648" width="3" height="5" fill="#00ff00"/>
<rect x="1100" y="648" width="3" height="9" fill="#00ff00"/>
<rect x="1108" y="648" width="3" height="13" fill="#00ff00"/>
<rect x="1116" y="648" width="3" height="1" fill="#00ff00"/>
<rect x="1124" y="638" width="3" height="10" fill="#00ff00"/>
<rect x="1132" y="631" width="3" height="17" fill="#00ff00"/>
<rect x="1140" y="626" width="3" height="22" fill="#00ff00"/>
<rect x="1148" y="620" width="3" height="28" fill="#00ff00"/>
<rect x="1156" y="619" width="3" height="29" fill="#00ff00"/>
<rect x="1164" y="607" width="3" height="41" fill="#00ff00"/>
<rect x="1172" y="596" width="3" height="52" fill="#00ff00"/>
<rect x="1180" y="583" width="3" height="65" fill="#00ff00"/>
<rect x="1188" y="576" width="3" height="72" fill="#00ff00"/>
<rect x="1196" y="571" width="3" height="77" fill="#00ff00"/>
<rect x="1204" y="571" width="3" height="77" fill="#00ff00"/>
<rect x="1212" y="576" width="3" height="72" fill="#00ff00"/>
<rect x="1220" y="580" width="3" height="68" fill="#00ff00"/>
<rect x="1228" y="584" width="3" height="64" fill="#00ff00"/>
<rect x="1236" y="584" width="3" height="64" fill="#00ff00"/>
<rect x="1244" y="580" width="3" height="68" fill="#00ff00"/>
<rect x="1252" y="580" width="3" height="68" fill="#00ff00"/>
<rect x="1260" y="584" width="3" height="64" fill="#00ff00"/>
<rect x="1268" y="587" width="3" height="61" fill="#00ff00"/>
<rect x="1276" y="591" width="3" height="57" fill="#00ff00"/>
<rect x="1284" y="596" width="3" height="52" fill="#00ff00"/>
<polyline points="5,604.5 13,604.5 21,604.5 29,604.8 37,607.0 45,610.0 53,613.0 61,615.8 69,616.5 77,616.7 85,616.7 93,616.7 101,616.5 109,615.6 117,615.6 125,615.7 133,617.5 141,622.4 149,627.3 157,634.1 165,643.9 173,652.7 181,662.5 189,671.4 197,680.2 205,687.0 213,691.6 221,693.5 229,693.9 237,693.5 245,692.0 253,689.0 261,684.1 269,679.2 277,674.3 285,671.4 293,668.4 301,668.0 309,666.0 317,665.0 325,666.3 333,669.5 341,672.4 349,676.0 357,678.0 365,679.5 373,680.8 381,681.3 389,681.3 397,681.3 405,681.3 413,681.3 421,681.5 429,682.3 437,683.7 445,684.7 453,688.0 461,692.0 469,695.9 477,699.8 485,705.7 493,710.6 501,715.0 509,720.4 517,724.2 525,727.6 533,729.5 541,729.9 549,729.9 557,729.3 565,726.1 573,722.3 581,719.0 589,715.3 597,711.8 605,708.4 613,705.2 621,702.4 629,700.0 637,698.0 645,696.0 653,693.9 661,692.3 669,690.2 677,686.8 685,681.3 693,676.1 701,669.5 709,663.0 717,657.5 725,651.0 733,643.8 741,638.6 749,634.0 757,629.8 765,626.8 773,624.8 781,625.1 789,628.1 797,633.3 805,637.9 813,643.1 821,649.7 829,655.6 837,660.8 845,664.7 853,667.7 861,667.7 869,667.3 877,664.3 885,662.0 893,659.5 901,656.5 909,653.3 917,651.0 925,650.7 933,650.1 941,651.0 949,653.3 957,654.2 965,655.6 973,655.8 981,655.8 989,655.2 997,652.9 1005,650.3 1013,646.4 1021,643.4 1029,641.2 1037,639.2 1045,637.5 1053,637.0 1061,635.9 1069,637.3 1077,638.2 1085,641.1 1093,642.9 1101,644.7 1109,648.2 1117,648.7 1125,648.7 1133,647.5 1141,645.4 1149,642.5 1157,639.6 1165,634.6 1173,628.1 1181,620.2 1189,611.6 1197,603.0 1205,597.2 1213,591.9 1221,586.4 1229,583.3 1237,580.3 1245,578.1 1253,578.5 1261,579.5 1269,580.3 1277,583.3 1285,585.0" fill="none" stroke="#ff0000" stroke-width="2" shape-rendering="crispEdges"/>
</g>
<rect x="4" y="4" width="1619" height="1" fill="#000"/>
<rect x="4" y="559" width="1619" height="1" fill="#000"/>
<rect x="4" y="4" width="1" height="556" fill="#000"/>
<rect x="1622" y="4" width="1" height="556" fill="#000"/>
<rect x="4" y="561" width="1619" height="1" fill="#000"/>
<rect x="4" y="742" width="1619" height="1" fill="#000"/>
<rect x="4" y="561" width="1" height="182" fill="#000"/>
<rect x="1622" y="561" width="1" height="182" fill="#000"/>
<rect x="5" y="145" width="1617" height="3" fill="#000"/>
<rect x="4" y="146" width="1" height="1" fill="#000"/>
<rect x="1622" y="146" width="1" height="1" fill="#000"/>
<rect x="5" y="221" width="1617" height="3" fill="#000"/>
<rect x="4" y="222" width="1" height="1" fill="#000"/>
<rect x="1622" y="222" width="1" height="1" fill="#000"/>
<rect x="5" y="291" width="1617" height="3" fill="#0000cd"/>
<rect x="4" y="292" width="1" height="1" fill="#0000cd"/>
<rect x="1622" y="292" width="1" height="1" fill="#0000cd"/>
<g shape-rendering="auto"><line x1="1293.2" y1="224.6" x2="1316.7" y2="307.9" stroke="#ff0000" stroke-width="5.5" stroke-linecap="round"/>
<polygon points="1305.3,311.2 1328.0,304.6 1325.8,341.4" fill="#ff0000"/></g>
<rect x="1623" y="28" width="2" height="1" fill="#000"/>
<rect x="1623" y="61" width="2" height="1" fill="#000"/>
<rect x="1623" y="94" width="2" height="1" fill="#000"/>
<rect x="1623" y="127" width="2" height="1" fill="#000"/>
<rect x="1623" y="160" width="2" height="1" fill="#000"/>
<rect x="1623" y="193" width="2" height="1" fill="#000"/>
<rect x="1623" y="226" width="2" height="1" fill="#000"/>
<rect x="1623" y="259" width="2" height="1" fill="#000"/>
<rect x="1623" y="292" width="2" height="1" fill="#000"/>
<rect x="1623" y="325" width="2" height="1" fill="#000"/>
<rect x="1623" y="358" width="2" height="1" fill="#000"/>
<rect x="1623" y="391" width="2" height="1" fill="#000"/>
<rect x="1623" y="424" width="2" height="1" fill="#000"/>
<rect x="1623" y="457" width="2" height="1" fill="#000"/>
<rect x="1623" y="490" width="2" height="1" fill="#000"/>
<rect x="1623" y="523" width="2" height="1" fill="#000"/>
<rect x="1623" y="556" width="2" height="1" fill="#000"/>
<rect x="1623" y="563" width="1" height="1" fill="#000"/>
<rect x="1623" y="648" width="1" height="1" fill="#000"/>
<rect x="1623" y="741" width="1" height="1" fill="#000"/>
<rect x="5" y="743" width="1" height="3" fill="#000"/>
<rect x="69" y="743" width="1" height="3" fill="#000"/>
<rect x="133" y="743" width="1" height="3" fill="#000"/>
<rect x="197" y="743" width="1" height="3" fill="#000"/>
<rect x="261" y="743" width="1" height="3" fill="#000"/>
<rect x="325" y="743" width="1" height="3" fill="#000"/>
<rect x="389" y="743" width="1" height="3" fill="#000"/>
<rect x="453" y="743" width="1" height="3" fill="#000"/>
<rect x="517" y="743" width="1" height="3" fill="#000"/>
<rect x="581" y="743" width="1" height="3" fill="#000"/>
<rect x="645" y="743" width="1" height="3" fill="#000"/>
<rect x="709" y="743" width="1" height="3" fill="#000"/>
<rect x="773" y="743" width="1" height="3" fill="#000"/>
<rect x="837" y="743" width="1" height="3" fill="#000"/>
<rect x="901" y="743" width="1" height="3" fill="#000"/>
<rect x="965" y="743" width="1" height="3" fill="#000"/>
<rect x="1029" y="743" width="1" height="3" fill="#000"/>
<rect x="1093" y="743" width="1" height="3" fill="#000"/>
<rect x="1157" y="743" width="1" height="3" fill="#000"/>
<rect x="1221" y="743" width="1" height="3" fill="#000"/>
<rect x="1285" y="743" width="1" height="3" fill="#000"/>
<g><text x="4.5" y="755">11 Apr 2023</text>
<text x="68.5" y="755">17 Apr 05:00</text>
<text x="132.5" y="755">21 Apr 05:00</text>
<text x="196.5" y="755">27 Apr 05:00</text>
<text x="260.5" y="755">8 May 05:00</text>
<text x="324.5" y="755">12 May 05:00</text>
<text x="388.5" y="755">18 May 05:00</text>
<text x="452.5" y="755">24 May 05:00</text>
<text x="516.5" y="755">30 May 05:00</text>
<text x="580.5" y="755">5 Jun 05:00</text>
<text x="644.5" y="755">9 Jun 05:00</text>
<text x="708.5" y="755">15 Jun 05:00</text>
<text x="772.5" y="755">21 Jun 05:00</text>
<text x="836.5" y="755">29 Jun 05:00</text>
<text x="900.5" y="755">5 Jul 05:00</text>
<text x="964.5" y="755">11 Jul 05:00</text>
<text x="1028.5" y="755">17 Jul 05:00</text>
<text x="1092.5" y="755">21 Jul 05:00</text>
<text x="1156.5" y="755">27 Jul 05:00</text>
<text x="1220.5" y="755">2 Aug 05:00</text>
<text x="1284.5" y="755">8 Aug 05:00</text>
<text x="1627.5" y="32">4173.0</text>
<text x="1627.5" y="65">4147.0</text>
<text x="1627.5" y="98">4121.0</text>
<text x="1627.5" y="131">4095.0</text>
<text x="1627.5" y="164">4069.0</text>
<text x="1627.5" y="197">4043.0</text>
<text x="1627.5" y="230">4017.0</text>
<text x="1627.5" y="263">3991.0</text>
<text x="1627.5" y="296">3965.0</text>
<text x="1627.5" y="329">3939.0</text>
<text x="1627.5" y="362">3913.0</text>
<text x="1627.5" y="395">3887.0</text>
<text x="1627.5" y="428">3861.0</text>
<text x="1627.5" y="461">3835.0</text>
<text x="1627.5" y="494">3809.0</text>
<text x="1627.5" y="527">3783.0</text>
<text x="1627.5" y="560">3757.0</text>
<text x="1626" y="572">49.42</text>
<text x="1626" y="652">0.00</text>
<text x="1626" y="739">-54.17</text>
<rect x="1624" y="140" width="36" height="11" fill="#000"/>
<text x="1627.5" y="149" fill="#ffffff" style="color:#ffffff">4080.0</text>
<rect x="1624" y="216" width="36" height="11" fill="#000"/>
<text x="1627.5" y="225" fill="#ffffff" style="color:#ffffff">4020.0</text>
<rect x="1624" y="261" width="36" height="11" fill="#000"/>
<text x="1627.5" y="270" fill="#ffffff" style="color:#ffffff">3986.0</text>
<rect x="1624" y="286" width="36" height="11" fill="#0000cd"/>
<text x="1627.5" y="295" fill="#ffffff" style="color:#ffffff">3965.0</text>
<polygon points="8,11 15,11 11.5,15" fill="#000" shape-rendering="auto"/>
<text x="20" y="16" textLength="65" lengthAdjust="spacing">CHINA300-,H4</text>
<text x="91" y="16" textLength="121.5" lengthAdjust="spacing">3998.8 4005.9 3981.3 3986.0</text>
<text x="9.5" y="574">MACD(12,26,9) 29.89 36.40</text>
<polygon points="1292.5,5 1302.5,5 1297.5,10" fill="#778899" shape-rendering="auto"/></g>
<rect x="1654" y="0" width="1" height="765" fill="#3c3c4c"/>
<rect x="1655" y="0" width="2" height="765" fill="#ffe53a"/>
</svg></body></html>
